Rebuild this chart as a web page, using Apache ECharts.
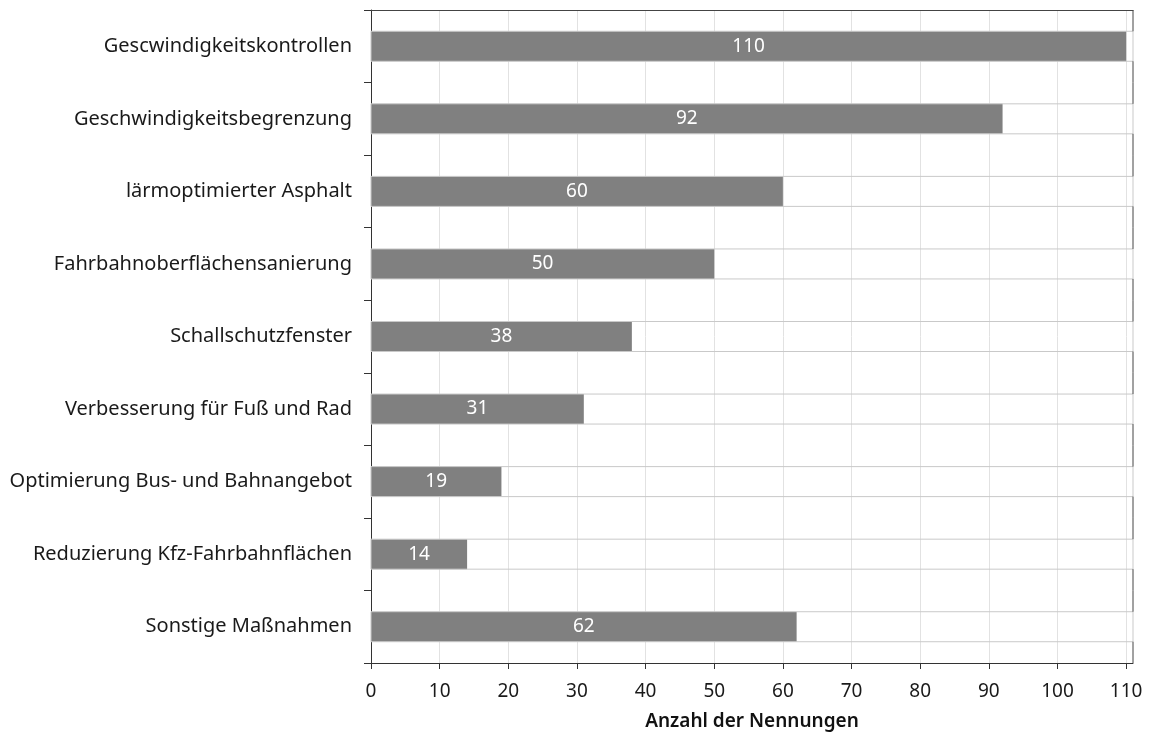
<!DOCTYPE html>
<html>
<head>
<meta charset="utf-8">
<script src="https://cdn.jsdelivr.net/npm/echarts@6/dist/echarts.min.js"></script>
<style>
  html, body { margin: 0; padding: 0; background: #fff; }
  #chart { width: 1149px; height: 733px; }
</style>
</head>
<body>
<div id="chart"></div>
<script>
// Nennungen je Maßnahme
const categories = [
  'Gescwindigkeitskontrollen',
  'Geschwindigkeitsbegrenzung',
  'lärmoptimierter Asphalt',
  'Fahrbahnoberflächensanierung',
  'Schallschutzfenster',
  'Verbesserung für Fuß und Rad',
  'Optimierung Bus- und Bahnangebot',
  'Reduzierung Kfz-Fahrbahnflächen',
  'Sonstige Maßnahmen'
];
const counts = [110, 92, 60, 50, 38, 31, 19, 14, 62];
const xTicks = [0, 10, 20, 30, 40, 50, 60, 70, 80, 90, 100, 110];
const axisMax = 111;
const axisTitle = 'Anzahl der Nennungen';

const FONT = 'Noto Sans';
const BAR_H = 30;

const chart = echarts.init(document.getElementById('chart'), null, { renderer: 'canvas' });

chart.setOption({
  animation: false,
  backgroundColor: '#ffffff',
  textStyle: { fontFamily: FONT },
  grid: {
    left: 371, right: 16, top: 10, bottom: 70,
    containLabel: false,
    outerBoundsMode: 'none'
  },
  xAxis: [
    {
      type: 'value',
      position: 'bottom',
      min: 0,
      max: axisMax,
      interval: 10,
      name: axisTitle,
      nameLocation: 'middle',
      nameGap: 49,
      nameTextStyle: { fontFamily: FONT, fontSize: 19, fontWeight: 600, color: '#111' },
      axisLine: { show: true, lineStyle: { color: '#333', width: 1 } },
      axisTick: { show: true, length: 6, customValues: xTicks, lineStyle: { color: '#333' } },
      axisLabel: { customValues: xTicks, fontFamily: FONT, fontSize: 19, color: '#1a1a1a', margin: 19 },
      splitLine: { show: true, lineStyle: { color: '#e2e2e2', width: 1 } }
    },
    {
      type: 'value',
      position: 'top',
      min: 0,
      max: axisMax,
      axisLine: { show: true, onZero: false, lineStyle: { color: '#444', width: 1 } },
      axisTick: { show: false },
      axisLabel: { show: false },
      splitLine: { show: false }
    }
  ],
  yAxis: {
    type: 'category',
    data: categories,
    inverse: true,
    axisLine: { show: true, lineStyle: { color: '#333', width: 1 } },
    axisTick: { show: true, length: 7, lineStyle: { color: '#333' } },
    axisLabel: { fontFamily: FONT, fontSize: 20, color: '#1a1a1a', margin: 19 },
    splitLine: { show: false }
  },
  series: [
    {
      type: 'bar',
      data: counts,
      barWidth: BAR_H,
      itemStyle: { color: '#808080' },
      label: {
        show: true,
        position: 'inside',
        color: '#ffffff',
        fontFamily: FONT,
        fontSize: 19
      },
      z: 2
    },
    {
      // band outlines across the plot and the dark right frame between bands
      type: 'custom',
      data: categories.map((_, i) => [axisMax, i]),
      encode: { x: 0, y: 1 },
      silent: true,
      z: 3,
      renderItem: function (params, api) {
        const idx = api.value(1);
        const left = api.coord([0, idx]);
        const right = api.coord([axisMax, idx]);
        const band = api.size([0, 1])[1];
        const cy = left[1];
        return {
          type: 'group',
          children: [
            {
              type: 'rect',
              shape: { x: left[0], y: cy - BAR_H / 2, width: right[0] - left[0], height: BAR_H },
              style: { fill: 'none', stroke: '#c9c9c9', lineWidth: 1 }
            },
            {
              type: 'line',
              shape: { x1: right[0], y1: cy - band / 2, x2: right[0], y2: cy - BAR_H / 2 },
              style: { stroke: '#444', lineWidth: 1 }
            },
            {
              type: 'line',
              shape: { x1: right[0], y1: cy + BAR_H / 2, x2: right[0], y2: cy + band / 2 },
              style: { stroke: '#444', lineWidth: 1 }
            }
          ]
        };
      }
    }
  ]
});
</script>
</body>
</html>
